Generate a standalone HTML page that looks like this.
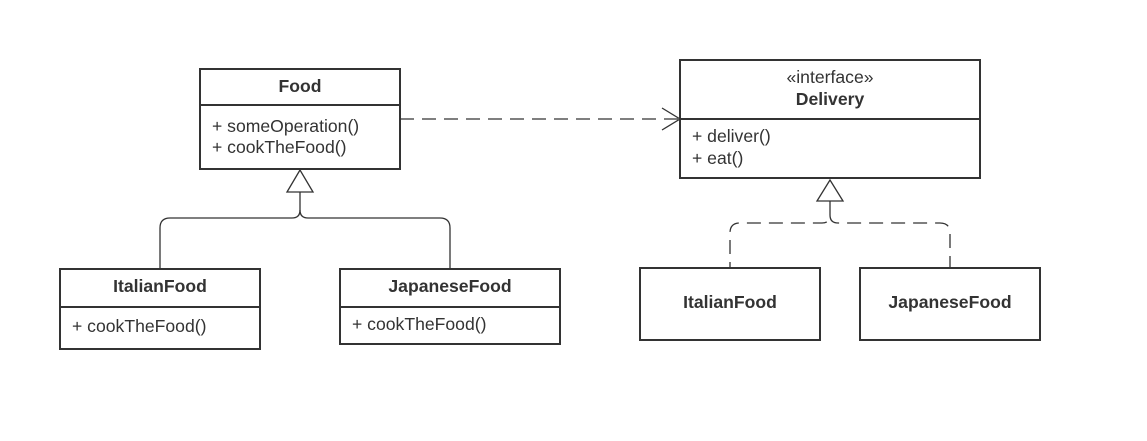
<!DOCTYPE html>
<html><head><style>body{margin:0;background:#fff}</style></head><body>
<svg width="1147" height="436" xmlns="http://www.w3.org/2000/svg" font-family="Liberation Sans, sans-serif" fill="#333">
<rect width="1147" height="436" fill="#fff"/>
<g fill="none" stroke="#333" stroke-width="2">
<rect x="200" y="69" width="200" height="100"/><line x1="200" y1="105" x2="400" y2="105"/>
<rect x="60" y="269" width="200" height="80"/><line x1="60" y1="307" x2="260" y2="307"/>
<rect x="340" y="269" width="220" height="75"/><line x1="340" y1="307" x2="560" y2="307"/>
<rect x="680" y="60" width="300" height="118"/><line x1="680" y1="119" x2="980" y2="119"/>
<rect x="640" y="268" width="180" height="72"/>
<rect x="860" y="268" width="180" height="72"/>
</g>
<g fill="none" stroke="#333" stroke-width="1.3">
<polygon points="300,170 287,192 313,192"/>
<path d="M300 192 V210 Q300 218 292 218 H170 Q160 218 160 228 V269"/>
<path d="M300 210 Q300 218 308 218 H440 Q450 218 450 228 V269"/>
<polygon points="830,180 817,201 843,201"/>
<path d="M830 201 V215 Q830 223 822 223 H740 Q730 223 730 233 V268" stroke-dasharray="14,8"/>
<path d="M830 215 Q830 223 838 223 H940 Q950 223 950 233 V268" stroke-dasharray="14,8"/>
<line x1="400" y1="119" x2="678" y2="119" stroke-dasharray="14,8"/>
<polyline points="662,108 680,119 662,130"/>
</g>
<g font-size="17.6">
<text x="300" y="92" text-anchor="middle" font-weight="bold">Food</text>
<text x="212" y="132">+ someOperation()</text>
<text x="212" y="153">+ cookTheFood()</text>
<text x="160" y="292" text-anchor="middle" font-weight="bold">ItalianFood</text>
<text x="72" y="332">+ cookTheFood()</text>
<text x="450" y="292" text-anchor="middle" font-weight="bold">JapaneseFood</text>
<text x="352" y="330">+ cookTheFood()</text>
<text x="830" y="83" text-anchor="middle">«interface»</text>
<text x="830" y="105" text-anchor="middle" font-weight="bold">Delivery</text>
<text x="692" y="142">+ deliver()</text>
<text x="692" y="164">+ eat()</text>
<text x="730" y="308" text-anchor="middle" font-weight="bold">ItalianFood</text>
<text x="950" y="308" text-anchor="middle" font-weight="bold">JapaneseFood</text>
</g>
</svg>
</body></html>
